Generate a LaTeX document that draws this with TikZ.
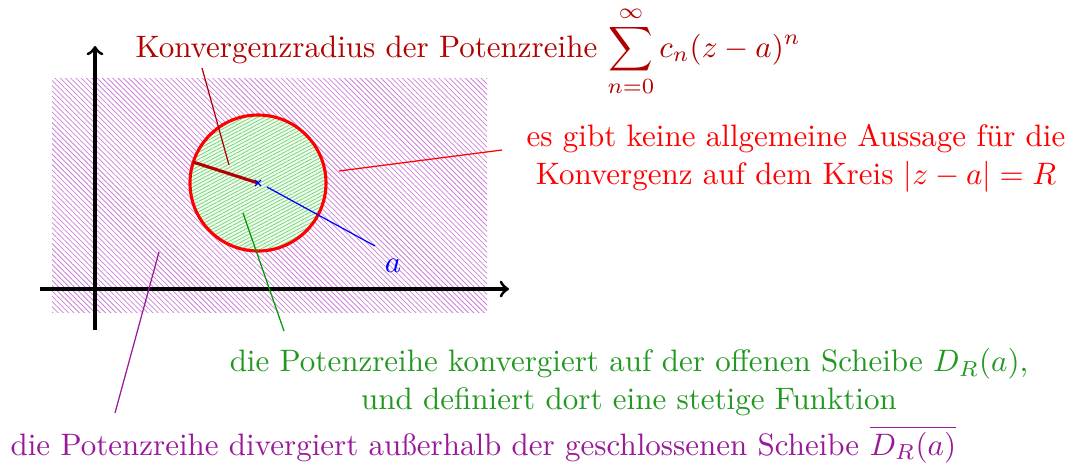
\documentclass[tikz,border=0pt]{standalone}
\usetikzlibrary{patterns.meta,calc}
\definecolor{dred}{rgb}{0.7,0,0}
\definecolor{mygreen}{rgb}{0.13,0.6,0.13}
\definecolor{mymag}{rgb}{0.6,0.1,0.6}
\definecolor{hatchmag}{rgb}{0.8,0.5,0.85}
\definecolor{hatchgreen}{rgb}{0.5,0.8,0.5}
\begin{document}
\begin{tikzpicture}[x=0.3226pt,y=-0.3226pt,
  axis/.style={line width=1pt,->},
  lab/.style={inner sep=0pt},
  pointer/.style={line width=0.4pt}]
\useasboundingbox (0,0) rectangle (1075,465);
% outer hatched region
\path[pattern={Lines[angle=-45,distance=1.2pt,line width=0.25pt]},pattern color=hatchmag]
  (52,78) rectangle (487,312);
% axes
\coordinate (xs) at (40,289); \coordinate (xe) at (509,289);
\coordinate (ys) at (95,330); \coordinate (ye) at (95,46);
\draw[axis] (xs) -- (xe);
\draw[axis] (ys) -- (ye);
% disc
\coordinate (c) at (258,183);
\fill[green!8] (c) circle[radius=68];
\path[pattern={Lines[angle=28,distance=1pt,line width=0.25pt]},pattern color=hatchgreen] (c) circle[radius=68];
\draw[red,line width=1pt] (c) circle[radius=68];
% radius
\coordinate (r) at (193,162);
\draw[dred,line width=1pt] (c) -- (r);
% center cross
\draw[blue,line width=0.4pt] (255,180) -- (261,186) (255,186) -- (261,180);
% labels
\node[lab,dred,anchor=base west] (tk) at (135,57) {Konvergenzradius der Potenzreihe $\displaystyle\sum_{n=0}^{\infty} c_n(z-a)^n$};
\node[lab,red,align=center,anchor=north] (tr) at (796,124) {es gibt keine allgemeine Aussage für die\\Konvergenz auf dem Kreis $|z-a|=R$};
\node[lab,mygreen,align=center,anchor=north] (tg) at (629,348) {die Potenzreihe konvergiert auf der offenen Scheibe $D_R(a)$,\\und definiert dort eine stetige Funktion};
\node[lab,mymag,anchor=base west] (tm) at (10,455) {die Potenzreihe divergiert außerhalb der geschlossenen Scheibe $\overline{D_R(a)}$};
\node[lab,blue] (la) at (393,266) {$a$};
% pointers
\coordinate (p1a) at (202,68); \coordinate (p1b) at (229,165);
\draw[pointer,dred] (p1a) -- (p1b);
\coordinate (p2a) at (502,150); \coordinate (p2b) at (339,171);
\draw[pointer,red] (p2a) -- (p2b);
\coordinate (p3a) at (267,187); \coordinate (p3b) at (375,246);
\draw[pointer,blue] (p3a) -- (p3b);
\coordinate (p4a) at (284,331); \coordinate (p4b) at (243,213);
\draw[pointer,green!60!black] (p4a) -- (p4b);
\coordinate (p5a) at (115,413); \coordinate (p5b) at (159,252);
\draw[pointer,mymag] (p5a) -- (p5b);
\end{tikzpicture}
\end{document}
